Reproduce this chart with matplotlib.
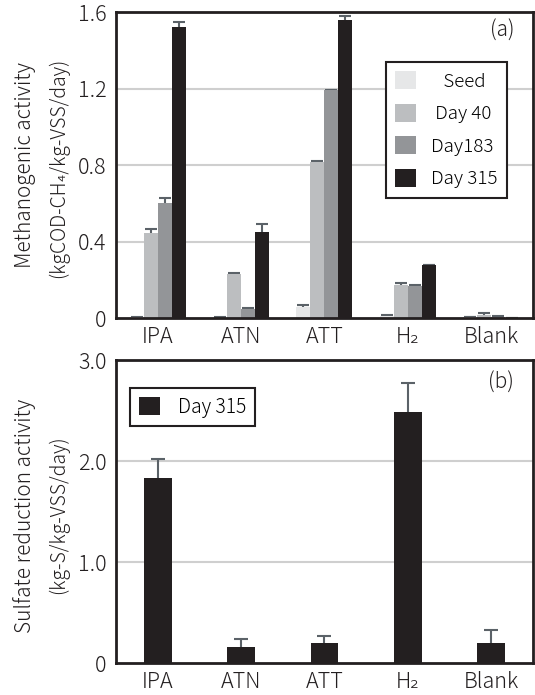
import matplotlib.pyplot as plt
import numpy as np

plt.rcParams['font.family'] = ['Noto Sans CJK JP', 'DejaVu Sans']
plt.rcParams['font.weight'] = 'light'

# substrates
groups = ['IPA', 'ATN', 'ATT', 'H₂', 'Blank']

# (a) methanogenic activity, kgCOD-CH4/kg-VSS/day
seed = [0.005, 0.002, 0.06, 0.01, 0.005]
seed_err = [0.003, 0.002, 0.007, 0.004, 0.002]
day40 = [0.445, 0.23, 0.815, 0.175, 0.015]
day40_err = [0.02, 0.008, 0.006, 0.006, 0.01]
day183 = [0.60, 0.045, 1.19, 0.17, 0.008]
day183_err = [0.03, 0.005, 0.004, 0.004, 0.002]
day315 = [1.52, 0.45, 1.56, 0.275, 0.0]
day315_err = [0.03, 0.04, 0.02, 0.0, 0.0]

# (b) sulfate reduction activity, kg-S/kg-VSS/day (day 315)
sulfate = [1.835, 0.16, 0.195, 2.49, 0.195]
sulfate_err = [0.185, 0.08, 0.075, 0.28, 0.135]

series = [('Seed', seed, seed_err, '#e6e7e8'),
          ('Day 40', day40, day40_err, '#bcbec0'),
          ('Day183', day183, day183_err, '#939598'),
          ('Day 315', day315, day315_err, '#231f20')]
legend_labels = ['   Seed', ' Day 40', 'Day183', 'Day 315']

ecol = '#5b6268'
grid_col = '#cfcfcf'
txt = '#231f20'

fig = plt.figure(figsize=(5.35, 6.95), dpi=100)
ax1 = fig.add_axes([0.217, 0.5424, 0.779, 0.4403])
ax2 = fig.add_axes([0.217, 0.046, 0.779, 0.436])

x = np.arange(len(groups))
w = 0.168

"""top panel - error bars sit behind the bars so only the upper half shows"""
for i, (name, vals, err, col) in enumerate(series):
    pos = x + (i - 1.5) * w
    ax1.bar(pos, vals, w, color=col, label=legend_labels[i], zorder=3,
            yerr=err, ecolor=ecol,
            error_kw=dict(capsize=4, elinewidth=1.5, capthick=1.5, zorder=2.5))

ax1.set_ylim(0, 1.6)
ax1.set_yticks([0, 0.4, 0.8, 1.2, 1.6])
ax1.set_yticklabels(['0', '0.4', '0.8', '1.2', '1.6'])
for yv in [0.4, 0.8, 1.2]:
    ax1.axhline(yv, color=grid_col, lw=1.5, zorder=1)
ax1.text(0.955, 0.94, '(a)', transform=ax1.transAxes, ha='right', va='center',
         fontsize=15, color=txt)
leg1 = ax1.legend(loc='upper left', bbox_to_anchor=(0.647, 0.837), fontsize=13.5,
                  handlelength=1.1, handleheight=1.1, handletextpad=0.8,
                  labelspacing=0.7, borderpad=0.5, borderaxespad=0,
                  fancybox=False, framealpha=1)
leg1.get_frame().set_edgecolor(txt)
leg1.get_frame().set_linewidth(1.5)

"""bottom panel"""
ax2.bar(x, sulfate, 0.33, color=txt, label='Day 315', zorder=3,
        yerr=sulfate_err, ecolor=ecol,
        error_kw=dict(capsize=5, elinewidth=1.5, capthick=1.5, zorder=2.5))
ax2.set_ylim(0, 3.0)
ax2.set_yticks([0, 1, 2, 3])
ax2.set_yticklabels(['0', '1.0', '2.0', '3.0'])
for yv in [1.0, 2.0]:
    ax2.axhline(yv, color=grid_col, lw=1.5, zorder=1)
ax2.text(0.955, 0.924, '(b)', transform=ax2.transAxes, ha='right', va='center',
         fontsize=15, color=txt)
leg2 = ax2.legend(loc='upper left', bbox_to_anchor=(0.034, 0.908), fontsize=14,
                  handlelength=1.1, handleheight=1.1, handletextpad=0.9,
                  borderpad=0.45, borderaxespad=0, fancybox=False, framealpha=1)
leg2.get_frame().set_edgecolor(txt)
leg2.get_frame().set_linewidth(1.5)

for ax in (ax1, ax2):
    ax.set_xlim(-0.5, 4.5)
    ax.set_xticks(x)
    ax.set_xticklabels(groups)
    ax.tick_params(length=0, labelsize=15.5, colors=txt)
    ax.tick_params(axis='y', pad=7)
    ax.tick_params(axis='x', pad=6)
    for s in ax.spines.values():
        s.set_linewidth(2)
        s.set_color(txt)
        s.set_zorder(5)

fig.text(25 / 535, 1 - 165 / 695, 'Methanogenic activity', rotation=90,
         ha='center', va='center', fontsize=15, color=txt)
fig.text(58 / 535, 1 - 168 / 695, '(kgCOD-CH₄/kg-VSS/day)', rotation=90,
         ha='center', va='center', fontsize=14, color=txt)
fig.text(25 / 535, 1 - 516 / 695, 'Sulfate reduction activity', rotation=90,
         ha='center', va='center', fontsize=15, color=txt)
fig.text(58 / 535, 1 - 515 / 695, '(kg-S/kg-VSS/day)', rotation=90,
         ha='center', va='center', fontsize=14, color=txt)

plt.savefig('out.png', dpi=100)
